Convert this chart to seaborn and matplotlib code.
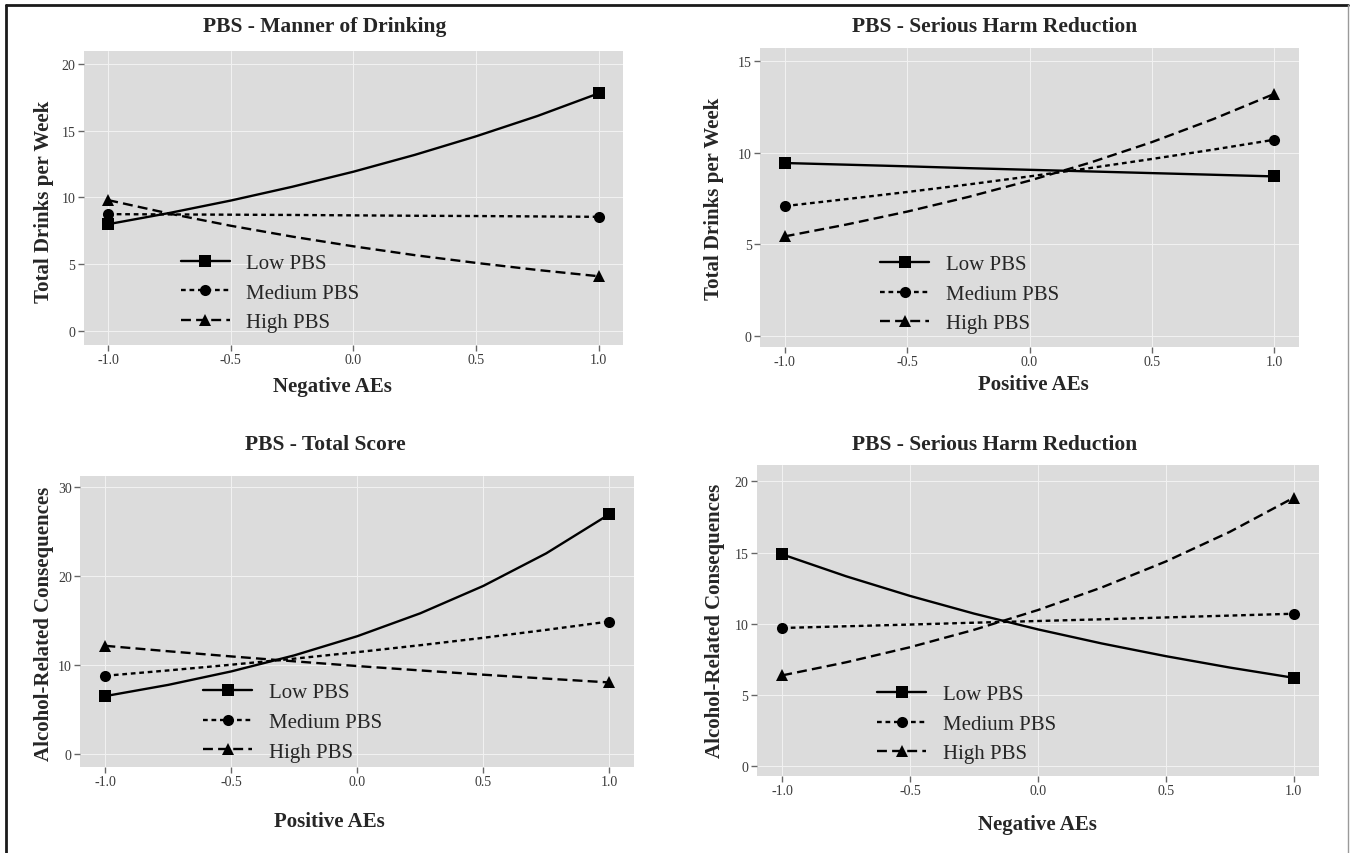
import numpy as np
import pandas as pd
import matplotlib
matplotlib.use("Agg")
import matplotlib.pyplot as plt
from matplotlib.lines import Line2D
import seaborn as sns

# ---------------- data ----------------
groups = ["Low PBS", "Medium PBS", "High PBS"]
x_grid = [-1.0, -0.75, -0.5, -0.25, 0.0, 0.25, 0.5, 0.75, 1.0]

titles = ["PBS - Manner of Drinking", "PBS - Serious Harm Reduction",
          "PBS - Total Score", "PBS - Serious Harm Reduction"]
xlabels = ["Negative AEs", "Positive AEs", "Positive AEs", "Negative AEs"]
ylabels = ["Total Drinks per Week", "Total Drinks per Week",
           "Alcohol-Related Consequences", "Alcohol-Related Consequences"]

xtick_vals = [-1.0, -0.5, 0.0, 0.5, 1.0]
xtick_labels = ["-1.0", "-0.5", "0.0", "0.5", "1.0"]
ytick_vals = [[0, 5, 10, 15, 20], [0, 5, 10, 15], [0, 10, 20, 30], [0, 5, 10, 15, 20]]
ytick_labels = [["0", "5", "10", "15", "20"], ["0", "5", "10", "15"],
                ["0", "10", "20", "30"], ["0", "5", "10", "15", "20"]]

# Panel 1: Manner of Drinking (Negative AEs)
low1 = [8.0, 8.84, 9.77, 10.8, 11.93, 13.19, 14.58, 16.1, 17.8]
med1 = [8.75, 8.73, 8.71, 8.69, 8.66, 8.63, 8.61, 8.58, 8.55]
high1 = [9.8, 8.79, 7.88, 7.07, 6.34, 5.68, 5.1, 4.57, 4.1]
# Panel 2: Serious Harm Reduction (Positive AEs)
low2 = [9.43, 9.34, 9.25, 9.15, 9.06, 8.97, 8.88, 8.79, 8.7]
med2 = [7.08, 7.46, 7.85, 8.26, 8.7, 9.16, 9.65, 10.16, 10.7]
high2 = [5.43, 6.07, 6.78, 7.58, 8.47, 9.46, 10.57, 11.82, 13.2]
# Panel 3: Total Score (Positive AEs)
low3 = [6.5, 7.76, 9.27, 11.07, 13.22, 15.79, 18.86, 22.52, 26.9]
med3 = [8.78, 9.38, 10.02, 10.7, 11.43, 12.21, 13.04, 13.93, 14.87]
high3 = [12.14, 11.53, 10.95, 10.4, 9.87, 9.38, 8.9, 8.46, 8.03]
# Panel 4: Serious Harm Reduction (Negative AEs)
low4 = [14.87, 13.33, 11.95, 10.71, 9.6, 8.61, 7.72, 6.92, 6.2]
med4 = [9.7, 9.82, 9.94, 10.07, 10.19, 10.31, 10.44, 10.57, 10.7]
high4 = [6.37, 7.29, 8.35, 9.57, 10.96, 12.55, 14.37, 16.45, 18.85]

series = [(low1, med1, high1), (low2, med2, high2),
          (low3, med3, high3), (low4, med4, high4)]

# ---------------- layout / style ----------------
W, H = 1350, 854
axes_px = [  # left, right, top, bottom in pixels
    (83.7, 623.2, 52, 346),
    (760.2, 1298.8, 49, 348),
    (80.2, 634.4, 477, 768),
    (756.7, 1319.2, 466, 777),
]
ylims = [(-1.05, 20.97), (-0.6, 15.7), (-1.46, 31.2), (-0.7, 21.15)]
title_px = [(325, 27), (995, 27), (325, 445), (995, 445)]
xlabel_pos = [(0.461, -0.139), (0.508, -0.124), (0.45, -0.186), (0.4996, -0.154)]
ylabel_pos = [(-0.0736, 0.491), (-0.085, 0.498), (-0.065, 0.495), (-0.075, 0.502)]
legend_anchor = [(0.180, 0.177), (0.223, 0.177), (0.222, 0.154), (0.214, 0.167)]

sns.set_theme(style="darkgrid", rc={
    "axes.facecolor": "#DCDCDC",
    "grid.color": "#F2F2F2",
    "grid.linewidth": 0.7,
    "axes.edgecolor": "#DCDCDC",
})
plt.rcParams["font.family"] = ["Liberation Serif", "DejaVu Serif"]

dash_map = {"Low PBS": "", "Medium PBS": (2.0, 1.6), "High PBS": (4.2, 2.2)}
marker_map = {"Low PBS": "s", "Medium PBS": "o", "High PBS": "^"}

fig = plt.figure(figsize=(W / 100, H / 100), dpi=100)
fig.patch.set_facecolor("white")

for i in range(4):
    l, r, t, b = axes_px[i]
    ax = fig.add_axes([l / W, 1 - b / H, (r - l) / W, (b - t) / H])
    low, med, high = series[i]
    df = pd.DataFrame({
        "x": x_grid * 3,
        "y": list(low) + list(med) + list(high),
        "PBS": [groups[0]] * len(x_grid) + [groups[1]] * len(x_grid) + [groups[2]] * len(x_grid),
    })
    sns.lineplot(data=df, x="x", y="y", style="PBS", style_order=groups,
                 dashes=dash_map, markers=marker_map, color="black",
                 linewidth=1.7, markersize=8, markeredgewidth=0,
                 ax=ax, legend=True, errorbar=None, sort=False)
    n = len(x_grid)
    for ln in ax.lines:
        if len(ln.get_xdata()) > 2:
            ln.set_markevery([0, n - 1])

    old = ax.get_legend()
    handles = list(old.legend_handles)
    labels = [tx.get_text() for tx in old.texts]
    pairs = [(h, lb) for h, lb in zip(handles, labels) if lb in groups]
    for h, _ in pairs:
        h.set_color("black")
        h.set_linewidth(1.7)
        h.set_markersize(8)
        h.set_markeredgewidth(0)
    old.remove()
    ax.legend([p[0] for p in pairs], [p[1] for p in pairs],
              loc="center left", bbox_to_anchor=legend_anchor[i],
              frameon=False, fontsize=15, handlelength=2.35,
              handletextpad=0.8, labelspacing=0.48, borderpad=0,
              borderaxespad=0, numpoints=1)

    ax.set_xlim(-1.1, 1.1)
    ax.set_ylim(*ylims[i])
    ax.set_xticks(xtick_vals)
    ax.set_xticklabels(xtick_labels)
    ax.set_yticks(ytick_vals[i])
    ax.set_yticklabels(ytick_labels[i])
    ax.tick_params(axis="both", which="major", bottom=True, left=True,
                   direction="out", length=4, width=1,
                   color="#666666", labelsize=10, labelcolor="#3a3a3a", pad=2)
    for sp in ax.spines.values():
        sp.set_visible(False)

    ax.set_xlabel(xlabels[i], fontsize=15, fontweight="bold", va="center", ha="center")
    ax.xaxis.set_label_coords(*xlabel_pos[i])
    ax.set_ylabel(ylabels[i], fontsize=15, fontweight="bold", va="center", ha="center")
    ax.yaxis.set_label_coords(*ylabel_pos[i])

    tx, ty = title_px[i]
    fig.text(tx / W, 1 - ty / H, titles[i], fontsize=15.5, fontweight="bold",
             ha="center", va="center")

# outer frame (left, top, right)
fig.add_artist(Line2D([6 / W, 6 / W], [0, 1 - 6 / H], transform=fig.transFigure,
                      color="#1a1a1a", linewidth=2.0))
fig.add_artist(Line2D([6 / W, 1348 / W], [1 - 6 / H, 1 - 6 / H], transform=fig.transFigure,
                      color="#1a1a1a", linewidth=2.0))
fig.add_artist(Line2D([1348 / W, 1348 / W], [0, 1 - 6 / H], transform=fig.transFigure,
                      color="#9a9a9a", linewidth=1.0))

fig.savefig("out.png", dpi=100, facecolor="white")
